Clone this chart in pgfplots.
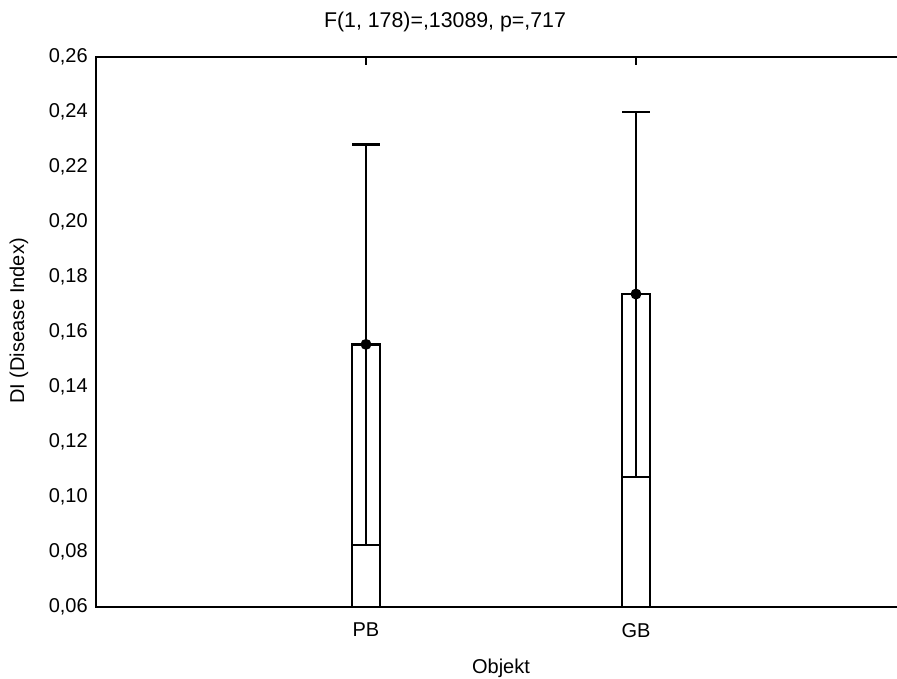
\documentclass[border=0pt]{standalone}
\usepackage{pgfplots}
\pgfplotsset{compat=1.18}
\usepackage{fontspec}
\setmainfont{Liberation Sans}
\begin{document}
\begin{tikzpicture}
\begin{axis}[
  scale only axis,
  width=607.5pt, height=412.5pt,
  xmin=0, xmax=3, ymin=0.06, ymax=0.26,
  axis line style={line width=1.8pt},
  font=\fontsize{15pt}{18pt}\selectfont,
  xtick={1,2}, xticklabels={PB,GB},
  xtick pos=upper, xticklabel pos=lower,
  major tick length=6pt,
  x tick style={line width=1.4pt, black},
  xticklabel style={yshift=-8.5pt},
  ytick={0.06,0.08,0.10,0.12,0.14,0.16,0.18,0.20,0.22,0.24,0.26},
  yticklabels={{0,06},{0,08},{0,10},{0,12},{0,14},{0,16},{0,18},{0,20},{0,22},{0,24},{0,26}},
  y tick style={draw=none},
  yticklabel style={xshift=-2.7pt},
  xlabel={Objekt},
  xlabel style={at={(axis description cs:0.5,0)}, anchor=center, yshift=-45.75pt},
  ylabel={DI (Disease Index)},
  ylabel style={at={(axis description cs:-0.095,0.52)}, anchor=center},
  clip=true,
]
% bars (mean)
\addplot[ybar, bar width=0.104, bar shift=0pt, draw=black, fill=white, line width=1.7pt]
  coordinates {(1,0.1555) (2,0.1738)};
% confidence intervals
\addplot[draw=black, line width=1.7pt, mark=*, mark size=3.2pt, only marks,
  error bars/.cd, y dir=both, y explicit,
  error mark=|, error mark options={line width=1.7pt, mark size=10.5pt, black},
  error bar style={line width=1.7pt, black}]
  coordinates {
    (1,0.1555) += (0,0.0727) -= (0,0.0730)
    (2,0.1738) += (0,0.0662) -= (0,0.0665)
  };
\end{axis}
\node[font=\fontsize{16pt}{19pt}\selectfont] at (261.75pt,438.75pt) {F(1, 178)=,13089, p=,717};
\pgfresetboundingbox
\path[use as bounding box] (-72pt,-54pt) rectangle (600.75pt,455.25pt);
\end{tikzpicture}
\end{document}
